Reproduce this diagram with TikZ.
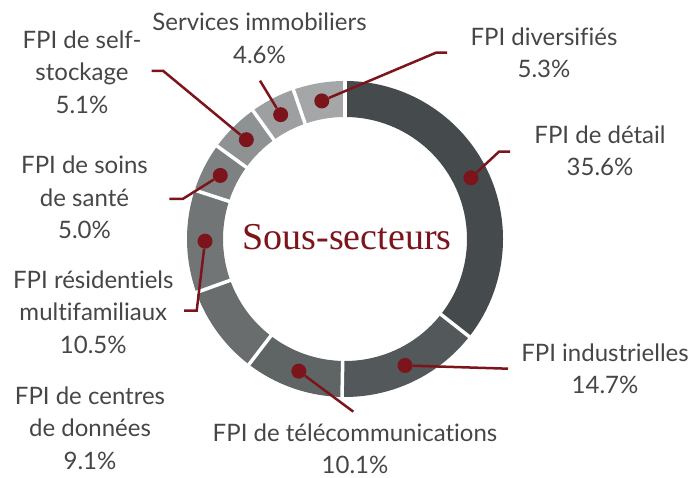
\documentclass[tikz,border=0pt]{standalone}
\usepackage{fontspec}
\setmainfont{Lato}[Ligatures=NoCommon]
\newfontfamily\titlefont{Liberation Serif}
\usetikzlibrary{calc}
\definecolor{fpired}{HTML}{7B151B}
\definecolor{fpitext}{HTML}{464646}
\definecolor{segA}{HTML}{454B4D}
\definecolor{segB}{HTML}{53585A}
\definecolor{segC}{HTML}{5F6465}
\definecolor{segD}{HTML}{696D6E}
\definecolor{segE}{HTML}{717576}
\definecolor{segF}{HTML}{7D8182}
\definecolor{segG}{HTML}{8F9293}
\definecolor{segH}{HTML}{9D9FA0}
\definecolor{segI}{HTML}{A4A6A7}
\begin{document}
\begin{tikzpicture}[x=1pt,y=1pt,
  lbltext/.style={font=\fontsize{24}{32.5}\selectfont, text=fpitext, align=center, anchor=base, inner sep=0pt},
  leader/.style={draw=fpired, line width=2.5pt},
  ringdot/.style={circle, fill=fpired, inner sep=0pt, minimum size=15pt}]
  \useasboundingbox (0,0) rectangle (693,478);
  \coordinate (O) at (345,239);
  % ring segments
  \foreach \s/\e/\c in {90/-38.16/segA, -38.16/-91.08/segB, -91.08/-127.44/segC,
      -127.44/-160.2/segD, -160.2/-198/segE, -198/-216/segF, -216/-234.36/segG,
      -234.36/-250.92/segH, -250.92/-270/segI}
    \fill[\c] (O) ++(\s:158) arc[start angle=\s, end angle=\e, radius=158]
      -- ($(O)+(\e:122)$) arc[start angle=\e, end angle=\s, radius=122] -- cycle;
  % white gaps
  \foreach \a in {90,-38.16,-91.08,-127.44,-160.2,-198,-216,-234.36,-250.92}
    \draw[white, line width=3.5pt] (O) ++(\a:117) -- ++(\a:45);
  % centre text
  \node[font=\titlefont\fontsize{38}{40}\selectfont, text=fpired, anchor=base, inner sep=0pt] (titre) at (347,228) {Sous-secteurs};
  % dots on the ring
  \foreach \n/\a in {Det/25.92, Ind/-64.62, Tel/-109.26, Res/-179.1, Soi/153,
      Sel/134.82, Ser/117.36, Div/99.54}
    \node[ringdot] (d\n) at ($(O)+(\a:140)$) {};
  % bends and ends of the leaders
  \coordinate (kDiv) at (436,425.3);
  \coordinate (eDiv) at (447,425.3);
  \coordinate (kDet) at (499,326.3);
  \coordinate (eDet) at (510,326.3);
  \coordinate (eInd) at (508,109.3);
  \coordinate (eTel) at (353.3,66.3);
  \coordinate (kRes) at (196.7,167.3);
  \coordinate (eRes) at (184,167.3);
  \coordinate (kSoi) at (182.7,279);
  \coordinate (eSoi) at (169.3,279);
  \coordinate (kSel) at (163.3,407);
  \coordinate (eSel) at (151.7,407);
  \coordinate (eSer) at (260,397.3);
  % leaders
  \draw[leader] (dDiv) -- (kDiv) -- (eDiv);
  \draw[leader] (dDet) -- (kDet) -- (eDet);
  \draw[leader] (dInd) -- (eInd);
  \draw[leader] (dTel) -- (eTel);
  \draw[leader] (dRes) -- (kRes) -- (eRes);
  \draw[leader] (dSoi) -- (kSoi) -- (eSoi);
  \draw[leader] (dSel) -- (kSel) -- (eSel);
  \draw[leader] (dSer) -- (eSer);
  % labels (anchored on the baseline of the last line)
  \node[lbltext] (lDiv) at (544,400) {FPI diversifiés\\5.3\%};
  \node[lbltext] (lDet) at (600,302.3) {FPI de détail\\35.6\%};
  \node[lbltext] (lInd) at (605,84) {FPI industrielles\\14.7\%};
  \node[lbltext] (lTel) at (355,4) {FPI de télécommunications\\10.1\%};
  \node[lbltext] (lCen) at (90,8.5) {FPI de centres\\de données\\9.1\%};
  \node[lbltext] (lRes) at (93.3,124.7) {FPI résidentiels\\multifamiliaux\\10.5\%};
  \node[lbltext] (lSoi) at (84.5,239.3) {FPI de soins\\de santé\\5.0\%};
  \node[lbltext] (lSel) at (82,364.7) {FPI de self-\\stockage\\5.1\%};
  \node[lbltext] (lSer) at (259.5,414.7) {Services immobiliers\\4.6\%};
\end{tikzpicture}
\end{document}
